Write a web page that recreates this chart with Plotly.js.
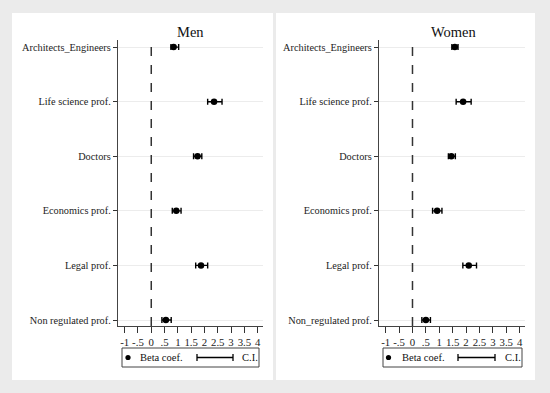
<!DOCTYPE html>
<html>
<head>
<meta charset="utf-8">
<script src="https://cdn.plot.ly/plotly-3.0.1.min.js"></script>
<style>html,body{margin:0;padding:0;background:#ebebeb;}#chart{width:550px;height:393px;}</style>
</head>
<body>
<div id="chart"></div>
<script>
const categoriesMen = ["Architects_Engineers", "Life science prof.", "Doctors", "Economics prof.", "Legal prof.", "Non regulated prof."];
const categoriesWomen = ["Architects_Engineers", "Life science prof.", "Doctors", "Economics prof.", "Legal prof.", "Non_regulated prof."];
const menBeta = [0.84, 2.36, 1.74, 0.94, 1.87, 0.55];
const menLow = [0.74, 2.12, 1.59, 0.79, 1.67, 0.40];
const menHigh = [1.03, 2.66, 1.90, 1.12, 2.12, 0.75];
const womenBeta = [1.58, 1.89, 1.45, 0.92, 2.10, 0.50];
const womenLow = [1.47, 1.63, 1.34, 0.75, 1.88, 0.35];
const womenHigh = [1.70, 2.19, 1.60, 1.10, 2.39, 0.67];
const xTickVals = [-1, -0.5, 0, 0.5, 1, 1.5, 2, 2.5, 3, 3.5, 4];
const xTickText = ["-1", "-.5", "0", ".5", "1", "1.5", "2", "2.5", "3", "3.5", "4"];
const panelTitles = ["Men", "Women"];
const legendLabels = ["Beta coef.", "C.I."];

const W = 550, H = 393;
const px = v => v / W;
const py = v => (H - v) / H;
const FONT = "Liberation Serif, Times New Roman, serif";

function trace(cats, beta, lo, hi, xa, ya) {
  return {
    type: "scatter", mode: "markers",
    x: beta, y: cats, xaxis: xa, yaxis: ya,
    marker: {symbol: "circle", size: 6.5, color: "#000"},
    error_x: {
      type: "data", symmetric: false,
      array: hi.map((h, i) => h - beta[i]),
      arrayminus: lo.map((l, i) => beta[i] - l),
      color: "#000", thickness: 1.4, width: 3
    },
    showlegend: false, hoverinfo: "skip"
  };
}

const data = [
  trace(categoriesMen, menBeta, menLow, menHigh, "x", "y"),
  trace(categoriesWomen, womenBeta, womenLow, womenHigh, "x2", "y2")
];

function xaxis(dom) {
  return {
    domain: dom, range: [-1.25, 4.2], tickmode: "array",
    tickvals: xTickVals, ticktext: xTickText,
    ticks: "outside", ticklen: 6, tickcolor: "#333", tickwidth: 1,
    showline: true, linecolor: "#444", linewidth: 1.2,
    showgrid: false, zeroline: false, fixedrange: true,
    tickfont: {family: FONT, size: 10.8, color: "#222"}
  };
}
function yaxis(anchor) {
  return {
    domain: [py(326), py(40)], anchor: anchor,
    type: "category", range: [5.11, -0.13],
    ticks: "outside", ticklen: 4, tickcolor: "#333", tickwidth: 1,
    showline: true, linecolor: "#444", linewidth: 1.2,
    showgrid: true, gridcolor: "#ececec", gridwidth: 1,
    zeroline: false, fixedrange: true,
    tickfont: {family: FONT, size: 10.3, color: "#222"}
  };
}

const panels = [
  {x0: 12, x1: 273, dom: [px(118), px(263)], xref: "x", title: 190, leg: [122, 259], dot: 128, txt: 138, ci: [197, 233], citxt: 240},
  {x0: 276, x1: 535, dom: [px(379), px(525)], xref: "x2", title: 453, leg: [383, 522], dot: 388.5, txt: 400, ci: [458, 495], citxt: 503}
];

const shapes = [];
const annotations = [];
panels.forEach((p, i) => {
  shapes.push({type: "rect", xref: "paper", yref: "paper", x0: px(p.x0), x1: px(p.x1), y0: py(380), y1: py(13),
    fillcolor: "#ffffff", line: {width: 0}, layer: "below"});
  shapes.push({type: "line", xref: p.xref, yref: "paper", x0: 0, x1: 0, y0: py(326), y1: py(40),
    line: {color: "#333", width: 1.5, dash: "dash"}});
  shapes.push({type: "rect", xref: "paper", yref: "paper", x0: px(p.leg[0]), x1: px(p.leg[1]), y0: py(367), y1: py(348),
    fillcolor: "#ffffff", line: {color: "#444", width: 1}});
  shapes.push({type: "circle", xref: "paper", yref: "paper", x0: px(p.dot - 2.6), x1: px(p.dot + 2.6), y0: py(360.1), y1: py(354.9),
    fillcolor: "#000", line: {color: "#000", width: 0}});
  shapes.push({type: "line", xref: "paper", yref: "paper", x0: px(p.ci[0]), x1: px(p.ci[1]), y0: py(357.5), y1: py(357.5),
    line: {color: "#000", width: 1.3}});
  [p.ci[0], p.ci[1]].forEach(cx => shapes.push({type: "line", xref: "paper", yref: "paper", x0: px(cx), x1: px(cx), y0: py(361), y1: py(354),
    line: {color: "#000", width: 1.3}}));
  annotations.push({xref: "paper", yref: "paper", x: px(p.title), y: py(32), text: panelTitles[i], showarrow: false,
    xanchor: "center", yanchor: "middle", font: {family: FONT, size: 14.5, color: "#111"}});
  annotations.push({xref: "paper", yref: "paper", x: px(p.txt), y: py(357.5), text: legendLabels[0], showarrow: false,
    xanchor: "left", yanchor: "middle", font: {family: FONT, size: 10.5, color: "#111"}});
  annotations.push({xref: "paper", yref: "paper", x: px(p.citxt), y: py(357.5), text: legendLabels[1], showarrow: false,
    xanchor: "left", yanchor: "middle", font: {family: FONT, size: 10.5, color: "#111"}});
});

const layout = {
  width: W, height: H,
  margin: {l: 0, r: 0, t: 0, b: 0},
  paper_bgcolor: "#ebebeb", plot_bgcolor: "rgba(0,0,0,0)",
  showlegend: false,
  xaxis: Object.assign(xaxis(panels[0].dom), {anchor: "y"}),
  yaxis: yaxis("x"),
  xaxis2: Object.assign(xaxis(panels[1].dom), {anchor: "y2"}),
  yaxis2: yaxis("x2"),
  shapes: shapes,
  annotations: annotations,
  font: {family: FONT}
};

Plotly.newPlot("chart", data, layout, {displayModeBar: false, staticPlot: true});
</script>
</body>
</html>
